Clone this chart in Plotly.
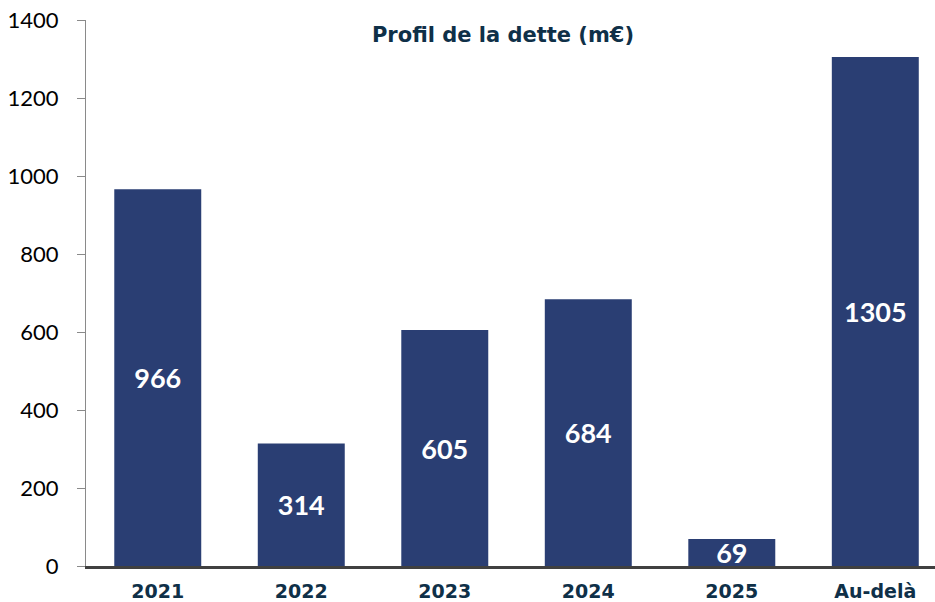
import plotly.graph_objects as go

# Debt maturity profile (m€)
categories = ["2021", "2022", "2023", "2024", "2025", "Au-delà"]
amounts = [966, 314, 605, 684, 69, 1305]
y_ticks = [0, 200, 400, 600, 800, 1000, 1200, 1400]

BAR_COLOR = "#2a3e73"
TEXT_DARK = "#0f3048"

fig = go.Figure()

fig.add_trace(
    go.Bar(
        x=categories, y=amounts,
        marker=dict(color=BAR_COLOR, line=dict(width=0)),
        text=[str(v) for v in amounts],
        textposition="inside",
        insidetextanchor="middle",
        constraintext="none",
        textangle=0,
        textfont=dict(family="Lato", size=27, color="white", weight="bold"),
        showlegend=False,
    )
)

fig.update_layout(
    width=935, height=602,
    margin=dict(l=86, r=0, t=20, b=36),
    plot_bgcolor="white",
    paper_bgcolor="white",
    bargap=0.394,
    title=dict(
        text="<b>Profil de la dette (m€)</b>",
        font=dict(family="DejaVu Sans", size=21, color=TEXT_DARK),
        x=0.538, xanchor="center", y=0.942, yanchor="middle",
    ),
)

fig.update_yaxes(
    range=[0, 1400],
    tickvals=y_ticks,
    automargin=False,
    ticklabeloverflow="allow",
    showgrid=False,
    zeroline=False,
    showline=True, linecolor="#8a8a8a", linewidth=1,
    ticks="outside", ticklen=8, tickcolor="#8a8a8a",
    ticklabelstandoff=14,
    tickfont=dict(family="Lato", size=22, color="black"),
)

fig.update_xaxes(
    type="category",
    range=[-0.5, 5.416],
    automargin=False,
    showgrid=False,
    showline=True, linecolor="#404040", linewidth=3,
    ticks="",
    ticklabelstandoff=6,
    tickfont=dict(family="DejaVu Sans", size=19, color=TEXT_DARK, weight="bold"),
)

# drop the default page margin so the figure fills the window
fig.write_html(
    "out.html",
    config={"displayModeBar": False},
    post_script="document.body.style.margin='0';",
)
